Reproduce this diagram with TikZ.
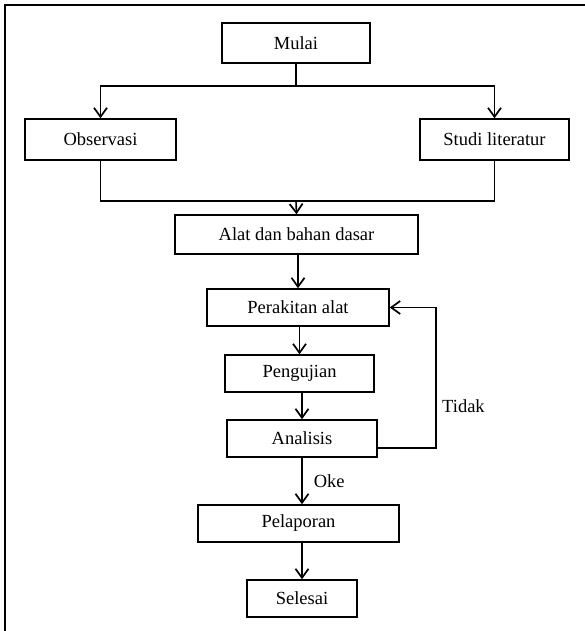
\documentclass[tikz,border=0pt]{standalone}
\usepackage{fontspec}
\setmainfont{Liberation Serif}
\usetikzlibrary{arrows.meta}
\begin{document}
\begin{tikzpicture}[x=1pt,y=-1pt,
  box/.style={draw, line width=1.5pt, minimum height=#1, inner sep=0pt, font=\fontsize{18.5}{22}\selectfont},
  box/.default=37pt,
  conn/.style={line width=1.6pt},
  arr/.style={conn, -{Straight Barb[length=9pt,width=13pt,line width=1.7pt]}},
  lbl/.style={font=\fontsize{18.5}{22}\selectfont, inner sep=0pt, anchor=west}]
\useasboundingbox (0,0) rectangle (585,631);
\draw[line width=2.2pt] (5,631) -- (5,5) -- (585,5);

\node[box=40pt, minimum width=148pt] (mulai) at (296,43) {Mulai};
\node[box=41pt, minimum width=151pt] (obs) at (100.5,139.5) {Observasi};
\node[box=41pt, minimum width=149pt] (studi) at (494.5,139.5) {Studi literatur};
\node[box=39pt, minimum width=243pt] (alat) at (296.5,234.5) {Alat dan bahan dasar};
\node[box, minimum width=182pt] (perak) at (298,307.5) {Perakitan alat};
\node[box, minimum width=149pt] (uji) at (299.5,373.5) {Pengujian};
\node[box, minimum width=150pt] (anal) at (302,438.5) {Analisis};
\node[box, minimum width=201pt] (lapor) at (298.5,523.5) {Pelaporan};
\node[box, minimum width=110pt] (selesai) at (302,598.5) {Selesai};

\coordinate (split) at (296,86);
\coordinate (merge) at (296,201);

\draw[conn] (mulai.south) -- (split);
\draw[arr] (split) -| (obs.north);
\draw[arr] (split) -| (studi.north);
\draw[conn] (obs.south) |- (merge) -| (studi.south);
\draw[arr] (merge) -- (alat.north);
\draw[arr] (alat.south -| perak.north) -- (perak.north);
\draw[arr] (perak.south -| uji.north) -- (uji.north);
\draw[arr] (uji.south -| anal.north) -- (anal.north);
\draw[arr] (anal.south) -- (anal.south |- lapor.north) node[lbl, midway, xshift=11pt] (oke) {Oke};
\draw[arr] (lapor.south -| selesai.north) -- (selesai.north);
\draw[arr] ([yshift=-9.5pt]anal.east) -- ++(58,0) coordinate (back) |- (perak.east);
\node[lbl] (tidak) at (442,406) {Tidak};
\end{tikzpicture}
\end{document}
